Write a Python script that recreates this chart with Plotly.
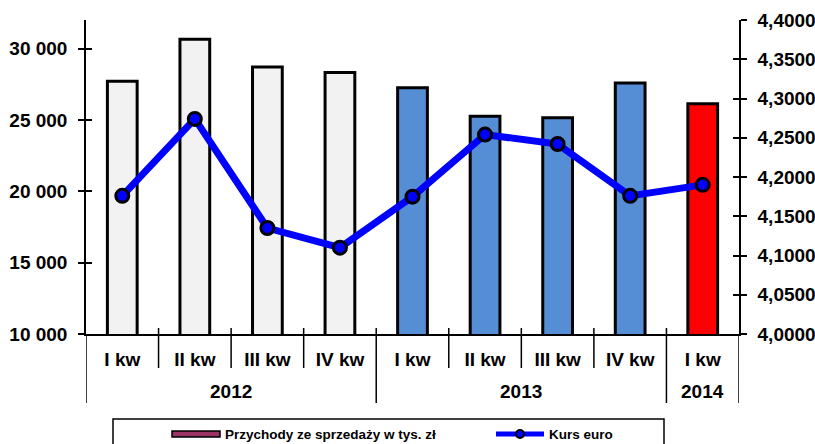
import plotly.graph_objects as go

quarters = ["I kw", "II kw", "III kw", "IV kw", "I kw", "II kw", "III kw", "IV kw", "I kw"]
years = ["2012", "2013", "2014"]
year_centers = [1.5, 5.5, 8.0]
revenue = [27700, 30650, 28700, 28330, 27260, 25250, 25160, 27590, 26140]
euro = [4.176, 4.274, 4.135, 4.110, 4.175, 4.254, 4.242, 4.176, 4.190]
bar_colors = ["#F2F2F2"] * 4 + ["#558ED5"] * 4 + ["#FF0000"]
series_names = ["Przychody ze sprzedaży w tys. zł", "Kurs euro"]

x = list(range(len(quarters)))
FONT = "Liberation Sans, Arial, sans-serif"

fig = go.Figure()
fig.add_trace(go.Bar(
    x=x, y=revenue, width=0.41,
    marker=dict(color=bar_colors, line=dict(color="black", width=3)),
    name=series_names[0], showlegend=False, yaxis="y",
))
fig.add_trace(go.Scatter(
    x=x, y=euro, mode="lines+markers", yaxis="y2",
    line=dict(color="#0000FF", width=7),
    marker=dict(size=13, color="#0000FF", line=dict(color="black", width=3)),
    name=series_names[1], showlegend=False,
))
# helper invisible traces for crossing tick axes
fig.add_trace(go.Scatter(x=[None], y=[None], yaxis="y3", showlegend=False, hoverinfo="skip"))
fig.add_trace(go.Scatter(x=[None], y=[None], yaxis="y4", showlegend=False, hoverinfo="skip"))

tickfont = dict(family=FONT, size=19, color="black", weight="bold")

shapes = []
H = 314.0
def py(pix):
    return (334 - pix) / H

# separators
for b in [0.5, 1.5, 2.5, 4.5, 5.5, 6.5]:
    shapes.append(dict(type="line", xref="x", yref="paper", x0=b, x1=b, y0=py(328), y1=py(368),
                       line=dict(color="black", width=1.5)))
for b in [3.5, 7.5]:
    shapes.append(dict(type="line", xref="x", yref="paper", x0=b, x1=b, y0=py(328), y1=py(403),
                       line=dict(color="black", width=1.5)))
for b in [-0.5, 8.5]:
    shapes.append(dict(type="line", xref="x", yref="paper", x0=b, x1=b, y0=0, y1=py(403),
                       line=dict(color="black", width=1.5)))

# legend box
def pxx(pix):
    return (pix - 86) / 653.0
shapes.append(dict(type="rect", xref="paper", yref="paper", x0=pxx(113), x1=pxx(664), y0=py(419), y1=py(470),
                   line=dict(color="black", width=1.5), fillcolor="white"))
shapes.append(dict(type="rect", xref="paper", yref="paper", x0=pxx(172), x1=pxx(220), y0=py(431), y1=py(437),
                   line=dict(color="black", width=1.5), fillcolor="#993366"))
shapes.append(dict(type="line", xref="paper", yref="paper", x0=pxx(496), x1=pxx(544), y0=py(434), y1=py(434),
                   line=dict(color="#0000FF", width=5)))
shapes.append(dict(type="circle", xref="paper", yref="paper", xsizemode="pixel", ysizemode="pixel",
                   xanchor=pxx(520), yanchor=py(434), x0=-4, x1=4, y0=-4, y1=4,
                   line=dict(color="black", width=2), fillcolor="#0000FF"))

annotations = []
for yr, c in zip(years, year_centers):
    annotations.append(dict(text=yr, x=c, xref="x", y=py(391), yref="paper", showarrow=False,
                            font=tickfont, xanchor="center", yanchor="middle"))
legfont = dict(family=FONT, size=13.5, color="black", weight="bold")
annotations.append(dict(text=series_names[0], x=pxx(223), y=py(434), xref="paper", yref="paper",
                        showarrow=False, xanchor="left", yanchor="middle", font=legfont))
annotations.append(dict(text=series_names[1], x=pxx(547), y=py(434), xref="paper", yref="paper",
                        showarrow=False, xanchor="left", yanchor="middle", font=legfont))

fig.update_layout(
    width=815, height=444,
    margin=dict(l=86, r=76, t=20, b=110, autoexpand=False),
    paper_bgcolor="white", plot_bgcolor="white",
    separators=", ",
    font=dict(family=FONT, color="black"),
    xaxis=dict(range=[-0.5, 8.5], tickvals=x, ticktext=quarters, ticks="", showline=True,
               linecolor="black", linewidth=1.5, showgrid=False, zeroline=False, automargin=False,
               tickfont=tickfont, ticklabelstandoff=7, fixedrange=True),
    yaxis=dict(range=[10000, 32000], tick0=10000, dtick=5000, tickformat=",.0f", ticks="outside",
               ticklen=6, tickwidth=1.5, tickcolor="black", showline=True, linecolor="black",
               linewidth=1.5, showgrid=False, zeroline=False, tickfont=tickfont, automargin=False,
               ticklabelstandoff=7),
    yaxis2=dict(range=[4.0, 4.4], tick0=4.0, dtick=0.05, tickformat=".4f", overlaying="y", side="right",
                ticks="outside", ticklen=6, tickwidth=1.5, tickcolor="black", showline=True,
                linecolor="black", linewidth=1.5, showgrid=False, zeroline=False, tickfont=tickfont,
                automargin=False, ticklabelstandoff=7),
    yaxis3=dict(overlaying="y", matches="y", side="left", ticks="inside", ticklen=6, tickwidth=1.5,
                tickcolor="black", showticklabels=False, showline=False, showgrid=False, zeroline=False,
                automargin=False, tick0=10000, dtick=5000),
    yaxis4=dict(overlaying="y", matches="y2", side="right", ticks="inside", ticklen=6, tickwidth=1.5,
                tickcolor="black", showticklabels=False, showline=False, showgrid=False, zeroline=False,
                automargin=False, tick0=4.0, dtick=0.05),
    shapes=shapes, annotations=annotations,
    bargap=0.5,
)

fig.write_html("out.html", config={"displayModeBar": False},
               post_script="document.body.style.margin='0';document.body.style.padding='0';")
